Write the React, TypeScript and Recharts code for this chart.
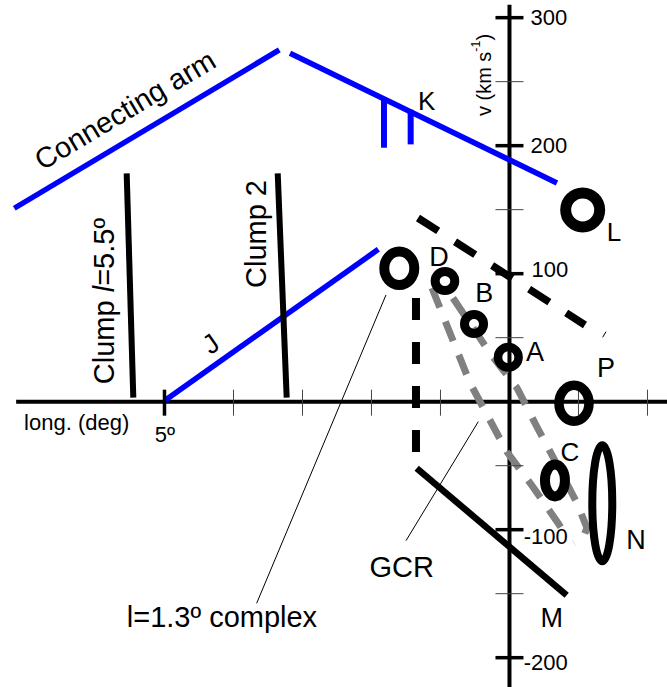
import React from 'react';
import { ComposedChart, Line, Scatter, XAxis, YAxis } from 'recharts';

const FONT = '"Liberation Sans", Arial, Helvetica, sans-serif';

// ---- axes (longitude in degrees, velocity in km/s) ----
const xAxisLine = [{ l: 7.15, v: 0 }, { l: -2.35, v: 0 }];
const yAxisLine = [{ l: 0, v: 310 }, { l: 0, v: -235 }];
const xMajorTicks = [5];
const xMinorTicks = [4, 3, 2, 1, -1, -2];
const yMajorTicks = [300, 200, 100, -100, -200];
const yMinorTicks = [250, 150, 50, -50, -150];
const yTickLabels = [
  { l: -0.572, v: 300, text: '300' },
  { l: -0.572, v: 199.8, text: '200' },
  { l: -0.587, v: 102.9, text: '100' },
  { l: -0.525, v: -105.3, text: '-100' },
  { l: -0.525, v: -204.1, text: '-200' },
];
const xTickLabels = [{ l: 4.993, v: -26, text: '5º' }];

// ---- structures ----
const connectingArm = [{ l: 7.177, v: 151.1 }, { l: 3.336, v: 274.8 }];
const armK = [{ l: 3.181, v: 272.2 }, { l: -0.688, v: 170.9 }];
const kBar1 = [{ l: 1.819, v: 238 }, { l: 1.819, v: 198.4 }];
const kBar2 = [{ l: 1.432, v: 228 }, { l: 1.432, v: 201 }];
const clump55 = [{ l: 5.548, v: 178.4 }, { l: 5.452, v: 3.1 }];
const clump2 = [{ l: 3.359, v: 178.4 }, { l: 3.229, v: 3.1 }];
const jFeature = [{ l: 5.0, v: 0.8 }, { l: 1.901, v: 119 }];
const mFeature = [{ l: 1.345, v: -52 }, { l: -0.829, v: -151.3 }];
const complexDrop = [{ l: 1.355, v: 81 }, { l: 1.355, v: -39.3 }];
const dashedDiag = [{ l: 1.326, v: 143.5 }, { l: -1.094, v: 59.9 }];
const gcrLeft = [
  { l: 1.123, v: 88.8 },
  { l: 0.572, v: 14.6 },
  { l: 0.036, v: -39.3 },
  { l: -0.341, v: -66.6 },
  { l: -0.703, v: -94.8 },
  { l: -0.848, v: -106.5 },
];
const gcrRight = [
  { l: 0.819, v: 81.0 },
  { l: 0.283, v: 38.0 },
  { l: -0.109, v: 10.7 },
  { l: -0.399, v: -19.8 },
  { l: -0.63, v: -43.2 },
  { l: -0.978, v: -79.1 },
  { l: -1.123, v: -98.6 },
  { l: -1.065, v: -106.5 },
  { l: -0.935, v: -110.4 },
];
const pointerComplex = [{ l: 1.79, v: 83.4 }, { l: 3.664, v: -157.5 }];
const pointerGCR = [{ l: 0.452, v: -15.6 }, { l: 1.5, v: -108.6 }];
const pointerP = [{ l: -1.351, v: 50.3 }, { l: -1.399, v: 54.7 }];

const rings = [
  { name: 'complex', l: 1.597, v: 104.2 },
  { name: 'D', l: 0.935, v: 94.3 },
  { name: 'B', l: 0.514, v: 60.7 },
  { name: 'A', l: 0.017, v: 34.7 },
  { name: 'P', l: -0.935, v: -1.3 },
  { name: 'L', l: -1.061, v: 149.8 },
  { name: 'C', l: -0.659, v: -61.5 },
  { name: 'N', l: -1.345, v: -79.4 },
];

const letterLabels = [
  { l: 1.2, v: 235.1, text: 'K' },
  { l: -1.514, v: 132.6, text: 'L' },
  { l: 1.022, v: 113.3, text: 'D' },
  { l: 0.365, v: 84.9, text: 'B' },
  { l: -0.37, v: 39.1, text: 'A' },
  { l: -1.399, v: 26.7, text: 'P' },
  { l: -0.877, v: -39.7, text: 'C' },
  { l: -1.833, v: -108, text: 'N' },
  { l: -0.612, v: -169.2, text: 'M' },
  { l: 1.562, v: -129.5, text: 'GCR' },
  { l: 4.167, v: -168.6, text: 'l=1.3º complex' },
  { l: 6.273, v: -16.2, text: 'long. (deg)' },
  { l: 4.329, v: 45.1, text: 'J' },
  { l: 3.667, v: 131.0, text: 'Clump 2' },
  { l: 5.877, v: 78.6, text: 'Clump l=5.5º' },
  { l: 5.572, v: 227.9, text: 'Connecting arm' },
  { l: 0.37, v: 255.2, text: 'v (km s-1)' },
];

// ---- styles ----
const ringStyle: Record<string, { rx: number; ry: number; sw: number }> = {
  complex: { rx: 15, ry: 16.7, sw: 10 },
  D: { rx: 9.8, ry: 9.5, sw: 9 },
  B: { rx: 9.5, ry: 9.5, sw: 9 },
  A: { rx: 10.3, ry: 10.3, sw: 8.5 },
  P: { rx: 15, ry: 18, sw: 9.5 },
  L: { rx: 17, ry: 17, sw: 11 },
  C: { rx: 10, ry: 16, sw: 10 },
  N: { rx: 10, ry: 58, sw: 8 },
};
const labelStyle: Record<string, { size: number; rotate?: number }> = {
  K: { size: 26 },
  L: { size: 26 },
  D: { size: 27 },
  B: { size: 27 },
  A: { size: 27 },
  P: { size: 27 },
  C: { size: 26 },
  N: { size: 27 },
  M: { size: 27 },
  GCR: { size: 29 },
  'l=1.3º complex': { size: 29 },
  'long. (deg)': { size: 22 },
  J: { size: 27, rotate: -35 },
  'Clump 2': { size: 29, rotate: -90 },
  'Clump l=5.5º': { size: 29, rotate: -90 },
  'Connecting arm': { size: 29, rotate: -30.9 },
  'v (km s-1)': { size: 20, rotate: -90 },
};

const BLUE = '#0000ff';
const GRAY = '#808080';

const pts = (arr: number[], axis: 'x' | 'y') =>
  arr.map((t) => (axis === 'x' ? { l: t, v: 0 } : { l: 0, v: t }));

const renderLabelText = (text: string, size: number) => {
  if (text === 'v (km s-1)') {
    return [
      'v (km s',
      <tspan key="s" dy={-8} fontSize={size * 0.62}>-1</tspan>,
      <tspan key="e" dy={8}>)</tspan>,
    ];
  }
  if (text === 'Clump l=5.5º') {
    return ['Clump ', <tspan key="i" fontStyle="italic">l</tspan>, '=5.5º'];
  }
  return text;
};

const LabelShape = (props: any) => {
  const { cx, cy, payload } = props;
  const st = labelStyle[payload.text] || { size: 27 };
  return (
    <text
      x={cx}
      y={cy}
      textAnchor="middle"
      dominantBaseline="central"
      fontFamily={FONT}
      fontSize={st.size}
      fill="#000"
      transform={st.rotate ? `rotate(${st.rotate}, ${cx}, ${cy})` : undefined}
    >
      {renderLabelText(payload.text, st.size)}
    </text>
  );
};

const TickLabelShape = (props: any) => {
  const { cx, cy, payload } = props;
  return (
    <text x={cx} y={cy} textAnchor="middle" dominantBaseline="central" fontFamily={FONT} fontSize={22} fill="#000">
      {payload.text}
    </text>
  );
};

const RingShape = (props: any) => {
  const { cx, cy, payload } = props;
  const st = ringStyle[payload.name];
  return <ellipse cx={cx} cy={cy} rx={st.rx} ry={st.ry} fill="none" stroke="#000" strokeWidth={st.sw} />;
};

const XTick = (major: boolean) => (props: any) => (
  <line
    x1={props.cx}
    x2={props.cx}
    y1={props.cy - 12}
    y2={props.cy + 14}
    stroke={major ? '#000' : '#444'}
    strokeWidth={major ? 3.5 : 1}
  />
);
const YTick = (major: boolean) => (props: any) => (
  <line
    x1={props.cx - 14}
    x2={props.cx + 14}
    y1={props.cy}
    y2={props.cy}
    stroke={major ? '#000' : '#444'}
    strokeWidth={major ? 3.5 : 1}
  />
);

const seg = (
  key: string,
  data: { l: number; v: number }[],
  stroke: string,
  width: number,
  dash?: string
) => (
  <Line
    key={key}
    data={data}
    dataKey="v"
    type="linear"
    stroke={stroke}
    strokeWidth={width}
    strokeDasharray={dash}
    dot={false}
    activeDot={false}
    isAnimationActive={false}
    legendType="none"
  />
);

export default function App() {
  return (
    <div style={{ position: 'absolute', left: 0, top: 0, width: 667, height: 687, background: '#fff' }}>
      <ComposedChart width={667} height={687} margin={{ top: 0, right: 0, bottom: 0, left: 0 }}>
        <XAxis type="number" dataKey="l" domain={[-2.283, 7.384]} reversed hide allowDataOverflow />
        <YAxis type="number" dataKey="v" domain={[-222.9, 313.8]} hide allowDataOverflow />

        {seg('xaxis', xAxisLine, '#000', 4)}
        {seg('yaxis', yAxisLine, '#000', 4)}
        <Scatter data={pts(xMinorTicks, 'x')} shape={XTick(false)} isAnimationActive={false} />
        <Scatter data={pts(xMajorTicks, 'x')} shape={XTick(true)} isAnimationActive={false} />
        <Scatter data={pts(yMinorTicks, 'y')} shape={YTick(false)} isAnimationActive={false} />
        <Scatter data={pts(yMajorTicks, 'y')} shape={YTick(true)} isAnimationActive={false} />

        {seg('arm', connectingArm, BLUE, 5.5)}
        {seg('armK', armK, BLUE, 5.5)}
        {seg('k1', kBar1, BLUE, 6)}
        {seg('k2', kBar2, BLUE, 6)}
        {seg('j', jFeature, BLUE, 5.5)}
        {seg('c55', clump55, '#000', 6)}
        {seg('c2', clump2, '#000', 6)}
        {seg('gl', gcrLeft, GRAY, 7, '21 15')}
        {seg('gr', gcrRight, GRAY, 7, '21 15')}
        {seg('drop', complexDrop, '#000', 8, '22 22')}
        {seg('diag', dashedDiag, '#000', 7.5, '24 20')}
        {seg('m', mFeature, '#000', 6.5)}
        {seg('p1', pointerComplex, '#000', 1)}
        {seg('p2', pointerGCR, '#000', 1)}
        {seg('p3', pointerP, '#000', 1)}

        <Scatter data={rings} shape={RingShape} isAnimationActive={false} />
        <Scatter data={yTickLabels} shape={TickLabelShape} isAnimationActive={false} />
        <Scatter data={xTickLabels} shape={TickLabelShape} isAnimationActive={false} />
        <Scatter data={letterLabels} shape={LabelShape} isAnimationActive={false} />
      </ComposedChart>
    </div>
  );
}
